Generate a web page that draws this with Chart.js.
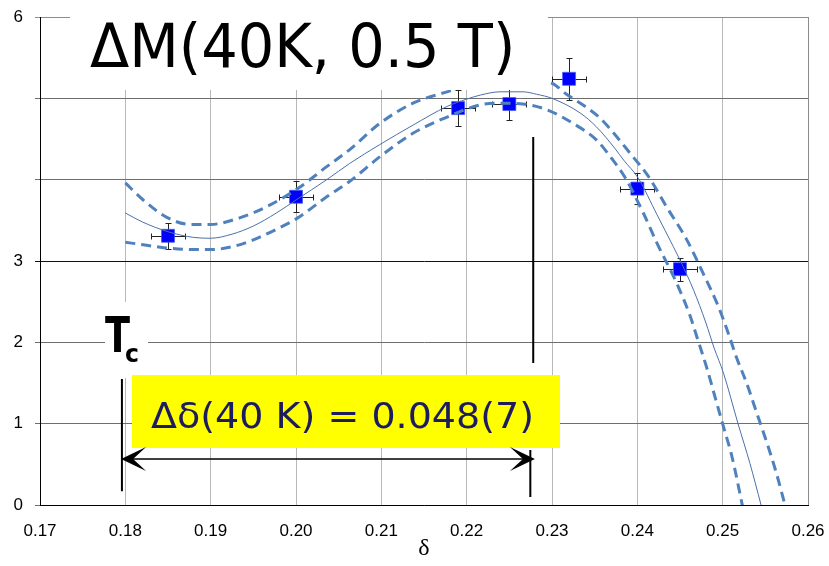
<!DOCTYPE html>
<html>
<head>
<meta charset="utf-8">
<script src="https://cdn.jsdelivr.net/npm/chart.js@4.4.0/dist/chart.umd.min.js"></script>
<style>
  html, body { margin: 0; padding: 0; background: #fff; }
</style>
</head>
<body>
<canvas id="myChart" width="829" height="566"></canvas>
<script>
// measured points (delta, ΔM) with error bars
const deltaX = [0.185, 0.200, 0.219, 0.225, 0.232, 0.240, 0.245];
const deltaM = [3.31, 3.79, 4.88, 4.93, 5.24, 3.89, 2.90];
const xErr = [0.002, 0.002, 0.002, 0.002, 0.002, 0.002, 0.002];
const yErr = [0.16, 0.19, 0.22, 0.20, 0.26, 0.19, 0.14];

// fit curve (thin solid)
const fitX = [0.180, 0.182, 0.185, 0.188, 0.190, 0.1925, 0.195, 0.1977, 0.200, 0.2036, 0.2063, 0.2098, 0.2137, 0.2177, 0.2200, 0.2216, 0.2239, 0.2266, 0.2282, 0.2300, 0.2333, 0.2352, 0.2374, 0.2384, 0.2401, 0.2423, 0.2442, 0.2451, 0.2466, 0.2480, 0.2490, 0.2501, 0.2518, 0.2532, 0.2545, 0.2550];
const fitY = [3.59, 3.48, 3.36, 3.29, 3.28, 3.33, 3.43, 3.59, 3.75, 4.00, 4.20, 4.43, 4.67, 4.90, 4.99, 5.04, 5.08, 5.08, 5.05, 5.00, 4.82, 4.65, 4.38, 4.24, 4.02, 3.57, 3.18, 2.99, 2.64, 2.25, 1.93, 1.62, 1.00, 0.51, 0.00, -0.2];

// confidence band, upper dashed
const upX = [0.180, 0.1821, 0.1848, 0.1876, 0.190, 0.1934, 0.1966, 0.2002, 0.2036, 0.2063, 0.2098, 0.2137, 0.2177, 0.2210, 0.2250, 0.2280, 0.2301, 0.2317, 0.2339, 0.2356, 0.2395, 0.2413, 0.2434, 0.2458, 0.2477, 0.2495, 0.2507, 0.2516, 0.2528, 0.2540, 0.2552, 0.2563, 0.2573, 0.2578];
const upY = [3.96, 3.75, 3.54, 3.45, 3.45, 3.53, 3.67, 3.89, 4.16, 4.37, 4.69, 4.94, 5.08, 5.18, 5.24, 5.23, 5.18, 5.05, 4.90, 4.76, 4.28, 4.04, 3.67, 3.26, 2.85, 2.44, 2.10, 1.82, 1.50, 1.13, 0.76, 0.39, 0.00, -0.2];

// confidence band, lower dashed
const loX = [0.180, 0.1821, 0.1848, 0.188, 0.190, 0.1927, 0.195, 0.1977, 0.2002, 0.2036, 0.2063, 0.2098, 0.2137, 0.2177, 0.2216, 0.2239, 0.2266, 0.2294, 0.2325, 0.2352, 0.2370, 0.2386, 0.2407, 0.2423, 0.2446, 0.2462, 0.2470, 0.2481, 0.2491, 0.2501, 0.2511, 0.2523, 0.2527];
const loY = [3.23, 3.20, 3.16, 3.14, 3.14, 3.18, 3.26, 3.39, 3.53, 3.79, 3.98, 4.28, 4.57, 4.77, 4.92, 4.94, 4.93, 4.86, 4.69, 4.49, 4.26, 4.02, 3.59, 3.22, 2.73, 2.32, 2.06, 1.70, 1.33, 0.96, 0.59, 0.00, -0.2];

const xTicks = [0.17, 0.18, 0.19, 0.20, 0.21, 0.22, 0.23, 0.24, 0.25, 0.26];
const yHidden = [4, 5];

// annotations, in data units
const titleText = 'ΔM(40K, 0.5 T)';
const titleBox = [0.17352, 0.22953, 6.02, 5.103];
const titlePos = [0.17586, 5.389, 0.22570];
const tcBox = [0.17762, 0.18266, 2.496, 1.562];
const tcPos = [0.17762, 1.887, 0.18055];
const subPos = [0.17996, 1.758, 0.18160];
const resultText = 'Δδ(40 K) = 0.048(7)';
const resultBox = [0.18078, 0.23094, 1.598, 0.701];
const resultPos = [0.18301, 0.943, 0.22790];
const tcLine = [0.17960, 1.55, 0.17];
const endLineLow = [0.22746, 0.676, 0.098];
const endLineHigh = [0.22780, 4.525, 1.746];
const arrowSpan = [0.17950, 0.22800, 0.566];

const pts = (xs, ys) => xs.map((x, i) => ({x: x, y: ys[i]}));

const fitText = (ctx, text, x, y, width, font, color) => {
    ctx.save();
    ctx.font = font;
    ctx.fillStyle = color;
    ctx.textBaseline = 'alphabetic';
    const w = ctx.measureText(text).width;
    ctx.translate(x, y);
    ctx.scale(width / w, 1);
    ctx.fillText(text, 0, 0);
    ctx.restore();
}

const errorBars = {
    id: 'errorBars',
    beforeDatasetDraw(chart, args) {
        if (args.index !== 3) return;
        const {ctx, scales: {x, y}} = chart;
        ctx.save();
        ctx.strokeStyle = '#222';
        ctx.lineWidth = 1;
        ctx.beginPath();
        for (let i = 0; i < deltaX.length; i++) {
            const cx = Math.round(x.getPixelForValue(deltaX[i])) + 0.5;
            const cy = Math.round(y.getPixelForValue(deltaM[i])) + 0.5;
            const x0 = Math.round(x.getPixelForValue(deltaX[i] - xErr[i])) + 0.5;
            const x1 = Math.round(x.getPixelForValue(deltaX[i] + xErr[i])) + 0.5;
            const y0 = Math.round(y.getPixelForValue(deltaM[i] - yErr[i])) + 0.5;
            const y1 = Math.round(y.getPixelForValue(deltaM[i] + yErr[i])) + 0.5;
            ctx.moveTo(x0, cy); ctx.lineTo(x1, cy);
            ctx.moveTo(x0, cy - 3); ctx.lineTo(x0, cy + 3);
            ctx.moveTo(x1, cy - 3); ctx.lineTo(x1, cy + 3);
            ctx.moveTo(cx, y0); ctx.lineTo(cx, y1);
            ctx.moveTo(cx - 3, y0); ctx.lineTo(cx + 3, y0);
            ctx.moveTo(cx - 3, y1); ctx.lineTo(cx + 3, y1);
        }
        ctx.stroke();
        ctx.restore();
    }
};

const arrowHead = (ctx, tx, ty, dir) => {
    ctx.beginPath();
    ctx.moveTo(tx, ty);
    ctx.lineTo(tx - dir * 25, ty - 12);
    ctx.lineTo(tx - dir * 12, ty);
    ctx.lineTo(tx - dir * 25, ty + 12);
    ctx.closePath();
    ctx.fill();
}

const annotations = {
    id: 'annotations',
    afterDatasetsDraw(chart) {
        const {ctx, scales: {x, y}} = chart;
        const px = v => x.getPixelForValue(v);
        const py = v => y.getPixelForValue(v);
        ctx.save();

        // title on white
        ctx.fillStyle = '#fff';
        ctx.fillRect(px(titleBox[0]), py(titleBox[2]), px(titleBox[1]) - px(titleBox[0]), py(titleBox[3]) - py(titleBox[2]));
        fitText(ctx, titleText, px(titlePos[0]), py(titlePos[1]), px(titlePos[2]) - px(titlePos[0]), '60px "DejaVu Sans"', '#000');

        // Tc label
        ctx.fillStyle = '#fff';
        ctx.fillRect(px(tcBox[0]), py(tcBox[2]), px(tcBox[1]) - px(tcBox[0]), py(tcBox[3]) - py(tcBox[2]));
        fitText(ctx, 'T', px(tcPos[0]), py(tcPos[1]), px(tcPos[2]) - px(tcPos[0]), 'bold 50px "DejaVu Sans"', '#000');
        fitText(ctx, 'c', px(subPos[0]), py(subPos[1]), px(subPos[2]) - px(subPos[0]), 'bold 25px "DejaVu Sans"', '#000');

        // yellow result box
        ctx.fillStyle = '#ffff00';
        ctx.fillRect(px(resultBox[0]), py(resultBox[2]), px(resultBox[1]) - px(resultBox[0]), py(resultBox[3]) - py(resultBox[2]));
        fitText(ctx, resultText, px(resultPos[0]), py(resultPos[1]), px(resultPos[2]) - px(resultPos[0]), '35px "DejaVu Sans"', '#1c1c5e');

        // vertical markers
        ctx.strokeStyle = '#000';
        ctx.lineWidth = 2;
        ctx.beginPath();
        ctx.moveTo(px(tcLine[0]), py(tcLine[1])); ctx.lineTo(px(tcLine[0]), py(tcLine[2]));
        ctx.moveTo(px(endLineLow[0]), py(endLineLow[1])); ctx.lineTo(px(endLineLow[0]), py(endLineLow[2]));
        ctx.moveTo(px(endLineHigh[0]), py(endLineHigh[1])); ctx.lineTo(px(endLineHigh[0]), py(endLineHigh[2]));
        ctx.stroke();

        // double arrow
        const ay = py(arrowSpan[2]);
        const ax0 = px(arrowSpan[0]);
        const ax1 = px(arrowSpan[1]);
        ctx.lineWidth = 1.5;
        ctx.beginPath();
        ctx.moveTo(ax0 + 10, ay); ctx.lineTo(ax1 - 10, ay);
        ctx.stroke();
        ctx.fillStyle = '#000';
        arrowHead(ctx, ax0, ay, -1);
        arrowHead(ctx, ax1, ay, 1);
        ctx.restore();
    }
};

const displayChart = () => {
    const ctx = document.getElementById('myChart');
    new Chart(ctx, {
        type: 'scatter',
        data: {
            datasets: [
                {
                    data: pts(fitX, fitY),
                    showLine: true,
                    borderColor: '#4a70a8',
                    borderWidth: 1,
                    pointRadius: 0,
                    cubicInterpolationMode: 'monotone'
                },
                {
                    data: pts(upX, upY),
                    showLine: true,
                    borderColor: '#4f81bd',
                    borderWidth: 3,
                    borderDash: [10, 6],
                    pointRadius: 0,
                    cubicInterpolationMode: 'monotone'
                },
                {
                    data: pts(loX, loY),
                    showLine: true,
                    borderColor: '#4f81bd',
                    borderWidth: 3,
                    borderDash: [10, 6],
                    pointRadius: 0,
                    cubicInterpolationMode: 'monotone'
                },
                {
                    data: pts(deltaX, deltaM),
                    pointStyle: 'rect',
                    pointRadius: 9.2,
                    backgroundColor: '#0000ff',
                    borderColor: 'rgba(70,90,255,0.7)',
                    borderWidth: 1
                }
            ]
        },
        options: {
            responsive: false,
            animation: false,
            events: [],
            layout: {
                padding: {left: 0, right: 21, top: 17, bottom: 0}
            },
            plugins: {
                legend: {display: false},
                tooltip: {enabled: false}
            },
            scales: {
                x: {
                    type: 'linear',
                    min: 0.17,
                    max: 0.26,
                    afterFit: scale => {
                        scale.height = 61;
                        scale.paddingLeft = 0;
                        scale.paddingRight = 0;
                    },
                    afterBuildTicks: scale => { scale.ticks = xTicks.map(v => ({value: v})); },
                    border: {color: '#000', width: 1},
                    grid: {
                        color: c => (c.tick && Math.abs(c.tick.value - 0.26) < 1e-6) ? '#8c8c8c' : '#b8b8b8',
                        tickLength: 5,
                        drawTicks: false
                    },
                    ticks: {
                        padding: 16,
                        color: '#000',
                        font: {family: '"Liberation Sans", Arial', size: 17},
                        callback: v => v.toFixed(2)
                    },
                    title: {
                        display: true,
                        text: 'δ',
                        color: '#000',
                        font: {family: '"Liberation Serif", serif', size: 24},
                        padding: {top: 0, bottom: 3}
                    }
                },
                y: {
                    type: 'linear',
                    min: 0,
                    max: 6,
                    afterFit: scale => {
                        scale.width = 40;
                        scale.paddingTop = 0;
                        scale.paddingBottom = 0;
                    },
                    border: {color: '#000', width: 1},
                    grid: {
                        color: c => {
                            if (!c.tick) return '#6e6e6e';
                            if (c.tick.value === 3) return '#111';
                            if (c.tick.value === 6) return '#8c8c8c';
                            return '#6e6e6e';
                        },
                        tickLength: 5
                    },
                    ticks: {
                        stepSize: 1,
                        padding: 12,
                        color: '#000',
                        font: {family: '"Liberation Sans", Arial', size: 17},
                        callback: v => yHidden.includes(v) ? '' : v
                    }
                }
            }
        },
        plugins: [errorBars, annotations]
    });
}

displayChart();
</script>
</body>
</html>
